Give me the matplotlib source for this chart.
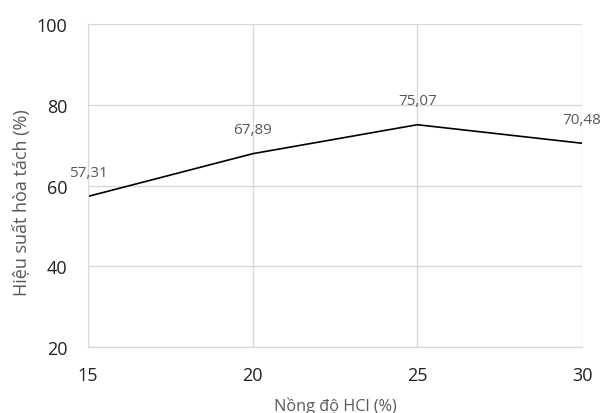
import matplotlib.pyplot as plt

# Nồng độ HCl và hiệu suất hòa tách tương ứng
hcl_conc = [15, 20, 25, 30]
efficiency = [57.31, 67.89, 75.07, 70.48]
x_ticks = [15, 20, 25, 30]
y_ticks = [20, 40, 60, 80, 100]

plt.rcParams["font.family"] = ["Open Sans", "DejaVu Sans"]

fig = plt.figure(figsize=(6.05, 4.14), dpi=100)
ax = fig.add_axes([0.1455, 0.1594, 0.8165, 0.780])

ax.plot(hcl_conc, efficiency, color="black", linewidth=1.2)

for x, y in zip(hcl_conc, efficiency):
    ax.annotate(f"{y:.2f}".replace(".", ","), (x, y), xytext=(0, 12),
                textcoords="offset points", ha="center", va="bottom",
                fontsize=11, color="#595959")

ax.set_xlim(15, 30)
ax.set_ylim(20, 100)
ax.set_xticks(x_ticks)
ax.set_yticks(y_ticks)
ax.grid(True, color="#d9d9d9", linewidth=1)
ax.set_axisbelow(True)
for side in ["top", "right"]:
    ax.spines[side].set_visible(False)
for side in ["left", "bottom"]:
    ax.spines[side].set_color("#d9d9d9")
ax.tick_params(length=0, labelsize=13, colors="#222222")
ax.tick_params(axis="x", pad=14)
ax.tick_params(axis="y", pad=15)

ax.set_xlabel("Nồng độ HCl (%)", fontsize=11.7, color="#595959", labelpad=9)
ax.set_ylabel("Hiệu suất hòa tách (%)", fontsize=13, color="#595959")
ax.yaxis.set_label_coords(-0.115, 0.449)

fig.savefig("out.png", dpi=100)
